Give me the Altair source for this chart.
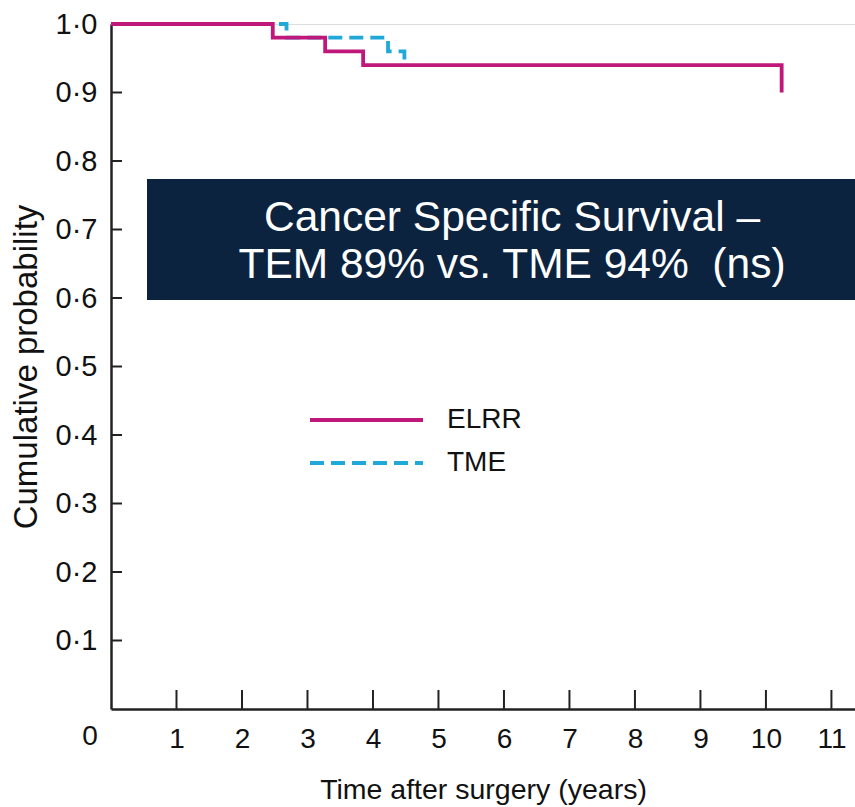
import altair as alt
import pandas as pd

# ---- data ----
elrr_time = [0, 2.47, 3.27, 3.85, 10.24, 10.24]
elrr_surv = [1.0, 0.98, 0.96, 0.94, 0.94, 0.90]
tme_time = [0, 2.68, 4.23, 4.48, 4.48]
tme_surv = [1.0, 0.98, 0.96, 0.94, 0.94]
x_ticks = [1, 2, 3, 4, 5, 6, 7, 8, 9, 10, 11]
y_ticks = [0.1, 0.2, 0.3, 0.4, 0.5, 0.6, 0.7, 0.8, 0.9, 1.0]
legend_names = ["ELRR", "TME"]
title_lines = ["Cancer Specific Survival \u2013", "TEM 89% vs. TME 94% \u00a0(ns)"]

MAGENTA = "#C0177B"
CYAN = "#1FA8D8"
NAVY = "#0C2340"
FONT = "Liberation Sans"

W, H = 744, 685

elrr = pd.DataFrame({"t": elrr_time, "s": elrr_surv})
tme = pd.DataFrame({"t": tme_time, "s": tme_surv})

xs = alt.Scale(domain=[0, 11.36], nice=False, zero=False)
ys = alt.Scale(domain=[0, 1.0], nice=False)

x_axis = alt.Axis(
    values=x_ticks, ticks=False, grid=False, format="d", labelFont=FONT, labelFontSize=28,
    labelColor="#111", labelPadding=16, title="Time after surgery (years)",
    titleFont=FONT, titleFontSize=28.5, titleFontWeight="normal", titleColor="#111",
    titlePadding=22, domainColor="#222", domainWidth=2.5, labelFlush=False,
)
y_axis = alt.Axis(
    values=y_ticks, ticks=False, grid=False, labelFont=FONT, labelFontSize=29,
    labelColor="#111", labelPadding=14,
    labelExpr="replace(format(datum.value, '.1f'), '.', '\u00b7')",
    title="Cumulative probability", titleFont=FONT, titleFontSize=33,
    titleFontWeight="normal", titleColor="#111", titlePadding=12,
    domainColor="#222", domainWidth=2.5, labelFlush=False,
)

base_axes = alt.Chart(pd.DataFrame({"t": [0], "s": [0]})).mark_point(opacity=0).encode(
    x=alt.X("t:Q", scale=xs, axis=x_axis),
    y=alt.Y("s:Q", scale=ys, axis=y_axis),
)

xt = alt.Chart(pd.DataFrame({"t": x_ticks})).mark_rule(color="#222", strokeWidth=2).encode(
    x=alt.X("t:Q", scale=xs), y=alt.value(H), y2=alt.value(H - 19)
)
yt = alt.Chart(pd.DataFrame({"s": y_ticks})).mark_rule(color="#222", strokeWidth=2).encode(
    y=alt.Y("s:Q", scale=ys), x=alt.value(0), x2=alt.value(11)
)

zero_lbl = alt.Chart(pd.DataFrame({"t": [0], "lab": ["0"]})).mark_text(
    font=FONT, fontSize=28, color="#111", dx=-21, baseline="middle", align="center"
).encode(x=alt.X("t:Q", scale=xs), y=alt.value(H + 28), text="lab:N")

tme_line = alt.Chart(tme).mark_line(
    color=CYAN, strokeWidth=3.8, strokeDash=[14, 7], interpolate="step-after"
).encode(x=alt.X("t:Q", scale=xs), y=alt.Y("s:Q", scale=ys))

elrr_line = alt.Chart(elrr).mark_line(
    color=MAGENTA, strokeWidth=3.8, interpolate="step-after"
).encode(x=alt.X("t:Q", scale=xs), y=alt.Y("s:Q", scale=ys))

box = alt.Chart(pd.DataFrame({"a": [0]})).mark_rect(color=NAVY).encode(
    x=alt.value(36), x2=alt.value(W + 2), y=alt.value(155), y2=alt.value(276)
)


def text_line(txt, y, size, color, x, align):
    return alt.Chart(pd.DataFrame({"txt": [txt]})).mark_text(
        font=FONT, fontSize=size, color=color, align=align, baseline="middle"
    ).encode(x=alt.value(x), y=alt.value(y), text="txt:N")


box_t1 = text_line(title_lines[0], 194, 42.5, "white", 401, "center")
box_t2 = text_line(title_lines[1], 241, 42.5, "white", 401, "center")

leg_elrr = alt.Chart(pd.DataFrame({"name": [legend_names[0]]})).mark_rule(
    color=MAGENTA, strokeWidth=3.8
).encode(x=alt.value(199), x2=alt.value(312), y=alt.value(396))
leg_tme = alt.Chart(pd.DataFrame({"name": [legend_names[1]]})).mark_rule(
    color=CYAN, strokeWidth=3.8, strokeDash=[14, 7]
).encode(x=alt.value(199), x2=alt.value(312), y=alt.value(439))
leg_t1 = text_line(legend_names[0], 396, 28, "#111", 336, "left")
leg_t2 = text_line(legend_names[1], 439, 28, "#111", 336, "left")

chart = alt.layer(
    base_axes, xt, yt, zero_lbl, tme_line, elrr_line, box, box_t1, box_t2,
    leg_elrr, leg_tme, leg_t1, leg_t2
).properties(
    width=W, height=H,
    autosize=alt.AutoSizeParams(type="none"),
    padding={"left": 111, "top": 24, "right": 0, "bottom": 98},
).configure_view(stroke=None).configure(background="white")

chart.save("out.html", embed_options={"renderer": "svg", "actions": False})
